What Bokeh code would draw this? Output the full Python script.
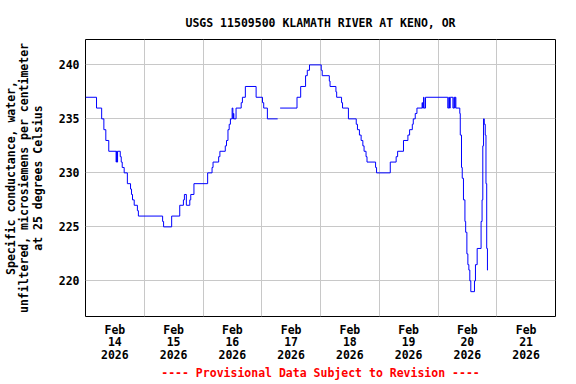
from bokeh.plotting import figure
from bokeh.models import FixedTicker, Range1d, ColumnDataSource
from bokeh.embed import file_html
from bokeh.resources import INLINE

title_text = "USGS 11509500 KLAMATH RIVER AT KENO, OR"
y_label_text = "Specific conductance, water,\nunfiltered, microsiemens per centimeter\nat 25 degrees Celsius"
footer_text = "---- Provisional Data Subject to Revision ----"

# x axis: hours since Feb 14 2026 00:00
day_label_hours = [12, 36, 60, 84, 108, 132, 156, 180]
day_labels = ["Feb\n14\n2026", "Feb\n15\n2026", "Feb\n16\n2026", "Feb\n17\n2026",
              "Feb\n18\n2026", "Feb\n19\n2026", "Feb\n20\n2026", "Feb\n21\n2026"]
midnight_hours = [24, 48, 72, 96, 120, 144, 168]
y_ticks = [220, 225, 230, 235, 240]

# segment 1 (before data gap on Feb 17)
seg1_hours = [0, 4.5, 6.6, 7.5, 8.3, 9.5, 12.5, 12.7, 12.9, 13.1, 14.2, 14.6, 15.0, 15.8,
              17.1, 18.4, 18.8, 19.2, 19.9, 21.2, 21.6, 31.5, 31.9, 35.2, 38.5, 40.0, 40.4,
              41.2, 42.6, 43.0, 44.3, 49.9, 51.7, 52.1, 54.4, 54.9, 57.1, 57.6, 58.2, 58.7,
              59.2, 59.9, 60.2, 60.4, 60.6, 61.5, 63.6, 64.1, 65.3, 69.7, 72.3, 72.8, 74.3]
seg1_values = [237, 236, 235, 234, 233, 232, 231, 232, 231, 232, 231.5, 231, 230.5, 230,
               229, 228.5, 228, 227.5, 227, 226.5, 226, 225.5, 225, 226, 227, 227.5, 228,
               227, 227.5, 228, 229, 230, 230.5, 231, 231.5, 232, 232.5, 233, 234, 234.5,
               235, 236, 235, 235.5, 235, 236, 236.5, 237, 238, 237, 236.5, 236, 235]
seg1_end = 78.5

# segment 2 (after the gap)
seg2_hours = [79.5, 86.4, 87.9, 89.9, 90.6, 91.5, 96.3, 96.7, 99.6, 99.9, 102.3, 102.6,
              104.6, 105.0, 107.4, 110.6, 111.1, 111.9, 112.6, 113.3, 113.8, 114.6, 115.0,
              118.5, 118.9, 124.5, 126.9, 127.5, 129.9, 131.7, 132.4, 133.5, 133.9, 134.7,
              135.4, 137.5, 137.7, 138.1, 138.3, 138.9, 148.0, 148.4, 148.7, 149.0, 150.1,
              150.5, 150.8, 151.0, 151.3, 152.9, 153.1, 153.6, 153.9, 154.4, 155.0, 155.3,
              155.8, 156.2, 156.6, 157.0, 157.4, 158.9, 159.3, 160.0, 161.6, 162.0, 162.3,
              162.6, 162.9, 163.3, 163.6, 163.9, 164.2]
seg2_values = [236, 237, 238, 239, 239.5, 240, 239.5, 239, 238.5, 238, 237.5, 237,
               236.5, 236, 235, 234.5, 234, 233.5, 233, 232.5, 232, 231.5, 231,
               230.5, 230, 231, 231.5, 232, 233, 233.5, 234, 234.5, 235, 235.5,
               236, 236.5, 236, 237, 236, 237, 236, 237, 236, 237, 236,
               237, 236, 237, 236, 235.5, 233.5, 230.5, 229.5, 227.5, 225.5, 224.5,
               222.5, 221.5, 221, 220, 219, 220, 221.5, 223, 225.5, 227.5, 232.5,
               235, 234.5, 233.5, 229, 223, 221]
seg2_end = 164.4


def step_points(hours, values, end):
    xs, ys = [], []
    for i, (h, v) in enumerate(zip(hours, values)):
        nxt = hours[i + 1] if i + 1 < len(hours) else end
        xs += [h, nxt]
        ys += [v, v]
    return xs, ys


x1, y1 = step_points(seg1_hours, seg1_values, seg1_end)
x2, y2 = step_points(seg2_hours, seg2_values, seg2_end)
xs = x1 + [float("nan")] + x2
ys = y1 + [float("nan")] + y2

FONT = "DejaVu Sans Mono"
FS = "11.5px"

p = figure(width=576, height=384, output_backend="svg", toolbar_location=None,
           x_range=Range1d(0, 192), y_range=Range1d(216.7, 242.35),
           min_border_left=84, min_border_right=21, min_border_top=39, min_border_bottom=68)
p.background_fill_color = "white"
p.border_fill_color = "white"
p.outline_line_color = "black"
p.outline_line_width = 1

# title
p.title.text = title_text
p.title.align = "center"
p.title.text_font = FONT
p.title.text_font_style = "bold"
p.title.text_font_size = FS
p.title.text_color = "black"
p.title.standoff = 20

src = ColumnDataSource(dict(x=xs, y=ys))
p.line("x", "y", source=src, line_color="#0000ff", line_width=1)

# x axis
p.xaxis.ticker = FixedTicker(ticks=day_label_hours)
p.xaxis.major_label_overrides = {h: lab for h, lab in zip(day_label_hours, day_labels)}
p.xaxis.major_tick_line_color = None
p.xaxis.minor_tick_line_color = None
p.xaxis.axis_line_color = None
p.xaxis.major_tick_out = 0
p.xaxis.major_tick_in = 0
p.xaxis.major_label_standoff = 6
p.xaxis.major_label_text_font = FONT
p.xaxis.major_label_text_font_style = "bold"
p.xaxis.major_label_text_font_size = FS
p.xaxis.major_label_text_color = "black"
p.xaxis.major_label_text_line_height = 0.92
p.xaxis.axis_label = footer_text
p.xaxis.axis_label_text_color = "#ff0000"
p.xaxis.axis_label_text_font = FONT
p.xaxis.axis_label_text_font_style = "bold"
p.xaxis.axis_label_text_font_size = FS
p.xaxis.axis_label_text_line_height = 0.8
p.xaxis.axis_label_standoff = 1

# y axis
p.yaxis.ticker = FixedTicker(ticks=y_ticks)
p.yaxis.major_tick_line_color = None
p.yaxis.minor_tick_line_color = None
p.yaxis.axis_line_color = None
p.yaxis.major_tick_out = 0
p.yaxis.major_tick_in = 0
p.yaxis.major_label_standoff = 6
p.yaxis.major_label_text_font = FONT
p.yaxis.major_label_text_font_style = "bold"
p.yaxis.major_label_text_font_size = FS
p.yaxis.major_label_text_color = "black"
p.yaxis.axis_label = y_label_text
p.yaxis.axis_label_text_font = FONT
p.yaxis.axis_label_text_font_style = "bold"
p.yaxis.axis_label_text_font_size = FS
p.yaxis.axis_label_text_color = "black"
p.yaxis.axis_label_text_line_height = 0.97
p.yaxis.axis_label_standoff = 11

# grids
p.xgrid.ticker = FixedTicker(ticks=midnight_hours)
p.ygrid.ticker = FixedTicker(ticks=y_ticks)
p.xgrid.grid_line_color = "#c8c8c8"
p.ygrid.grid_line_color = "#c8c8c8"
p.xgrid.grid_line_width = 1
p.ygrid.grid_line_width = 1

open("out.html", "w").write(file_html(p, INLINE))
